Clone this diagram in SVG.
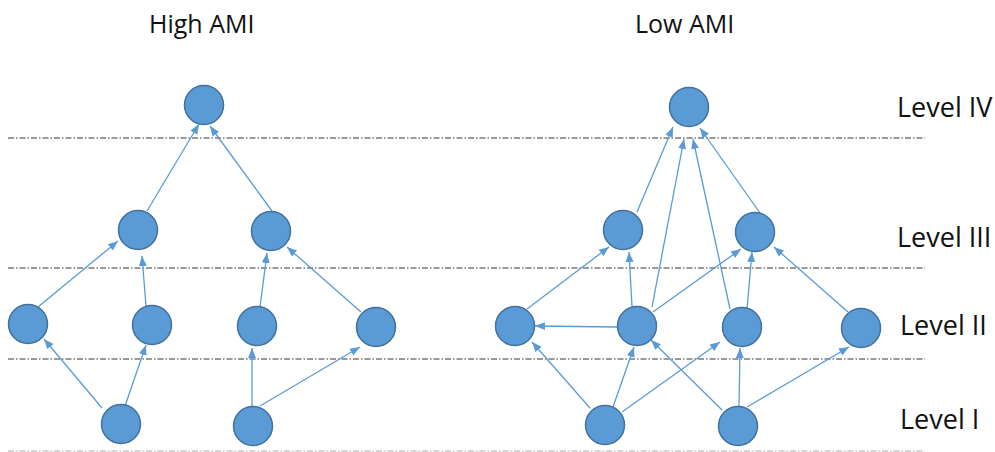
<svg xmlns="http://www.w3.org/2000/svg" width="995" height="452" viewBox="0 0 995 452">
<style>
.node{fill:#5b9bd5;stroke:#41719c;stroke-width:1.5}
.edge{stroke:#5b9bd5;stroke-width:1.3;fill:none;marker-end:url(#arr)}
.sep{stroke:#7a7a7a;stroke-width:1.3;stroke-dasharray:6 2 1.5 2;fill:none}
.title{font-family:"Open Sans","Liberation Sans",sans-serif;font-size:25px;fill:#111}
.lvl{font-family:"Open Sans","Liberation Sans",sans-serif;font-size:27px;fill:#111}
</style>
<defs>
<marker id="arr" markerUnits="userSpaceOnUse" markerWidth="10" markerHeight="10" viewBox="0 0 10 10" refX="10" refY="5" orient="auto">
<path d="M0,1 L10,5 L0,9 Z" fill="#5b9bd5"/>
</marker>
</defs>
<rect width="995" height="452" fill="#ffffff"/>
<g id="separators">
<line class="sep" x1="8" y1="138" x2="925" y2="138"/>
<line class="sep" x1="8" y1="268" x2="925" y2="268"/>
<line class="sep" x1="8" y1="359" x2="925" y2="359"/>
<line class="sep" x1="8" y1="451" x2="925" y2="451" style="stroke:#c8c8c8"/>
</g>
<g id="labels">
<text class="title" x="149" y="33">High AMI</text>
<text class="title" x="635" y="33">Low AMI</text>
<text class="lvl" x="897" y="117">Level IV</text>
<text class="lvl" x="897" y="247">Level III</text>
<text class="lvl" x="900" y="335">Level II</text>
<text class="lvl" x="900" y="429">Level I</text>
</g>
<g id="connectors">
<line class="edge" x1="147" y1="211" x2="199" y2="124"/>
<line class="edge" x1="272" y1="211" x2="210" y2="126"/>
<line class="edge" x1="38" y1="307" x2="118" y2="241"/>
<line class="edge" x1="146" y1="306" x2="142" y2="256"/>
<line class="edge" x1="260" y1="307" x2="267" y2="253"/>
<line class="edge" x1="361" y1="312" x2="287" y2="247"/>
<line class="edge" x1="102" y1="408" x2="44" y2="339"/>
<line class="edge" x1="125" y1="406" x2="146" y2="345"/>
<line class="edge" x1="252" y1="407" x2="252" y2="348"/>
<line class="edge" x1="260" y1="406" x2="360" y2="347"/>
<line class="edge" x1="637" y1="212" x2="673" y2="127"/>
<line class="edge" x1="652" y1="307" x2="684" y2="139"/>
<line class="edge" x1="730" y1="309" x2="693" y2="139"/>
<line class="edge" x1="760" y1="213" x2="700" y2="128"/>
<line class="edge" x1="632" y1="307" x2="629" y2="252"/>
<line class="edge" x1="747" y1="309" x2="752" y2="252"/>
<line class="edge" x1="527" y1="309" x2="609" y2="247"/>
<line class="edge" x1="653" y1="312" x2="741" y2="249"/>
<line class="edge" x1="848" y1="312" x2="774" y2="247"/>
<line class="edge" x1="617" y1="327" x2="535" y2="326"/>
<line class="edge" x1="590" y1="408" x2="532" y2="342"/>
<line class="edge" x1="613" y1="407" x2="634" y2="347"/>
<line class="edge" x1="622" y1="412" x2="720" y2="342"/>
<line class="edge" x1="722" y1="410" x2="651" y2="340"/>
<line class="edge" x1="739" y1="407" x2="740" y2="348"/>
<line class="edge" x1="747" y1="407" x2="849" y2="347"/>
</g>
<g id="h-top"><circle class="node" cx="204" cy="105" r="19.5"/></g>
<g id="h-l3a"><circle class="node" cx="138" cy="230" r="19.5"/></g>
<g id="h-l3b"><circle class="node" cx="271" cy="231" r="19.5"/></g>
<g id="h-l2a"><circle class="node" cx="28" cy="324" r="19.5"/></g>
<g id="h-l2b"><circle class="node" cx="152" cy="325" r="19.5"/></g>
<g id="h-l2c"><circle class="node" cx="257" cy="326" r="19.5"/></g>
<g id="h-l2d"><circle class="node" cx="376" cy="327" r="19.5"/></g>
<g id="h-l1a"><circle class="node" cx="121" cy="424" r="19.5"/></g>
<g id="h-l1b"><circle class="node" cx="253" cy="426" r="19.5"/></g>
<g id="l-top"><circle class="node" cx="689" cy="107" r="19.5"/></g>
<g id="l-l3a"><circle class="node" cx="623" cy="230" r="19.5"/></g>
<g id="l-l3b"><circle class="node" cx="755" cy="232" r="19.5"/></g>
<g id="l-l2a"><circle class="node" cx="515" cy="326" r="19.5"/></g>
<g id="l-l2b"><circle class="node" cx="637" cy="326" r="19.5"/></g>
<g id="l-l2c"><circle class="node" cx="742" cy="327" r="19.5"/></g>
<g id="l-l2d"><circle class="node" cx="861" cy="328" r="19.5"/></g>
<g id="l-l1a"><circle class="node" cx="605" cy="425" r="19.5"/></g>
<g id="l-l1b"><circle class="node" cx="738" cy="426" r="19.5"/></g>
</svg>
